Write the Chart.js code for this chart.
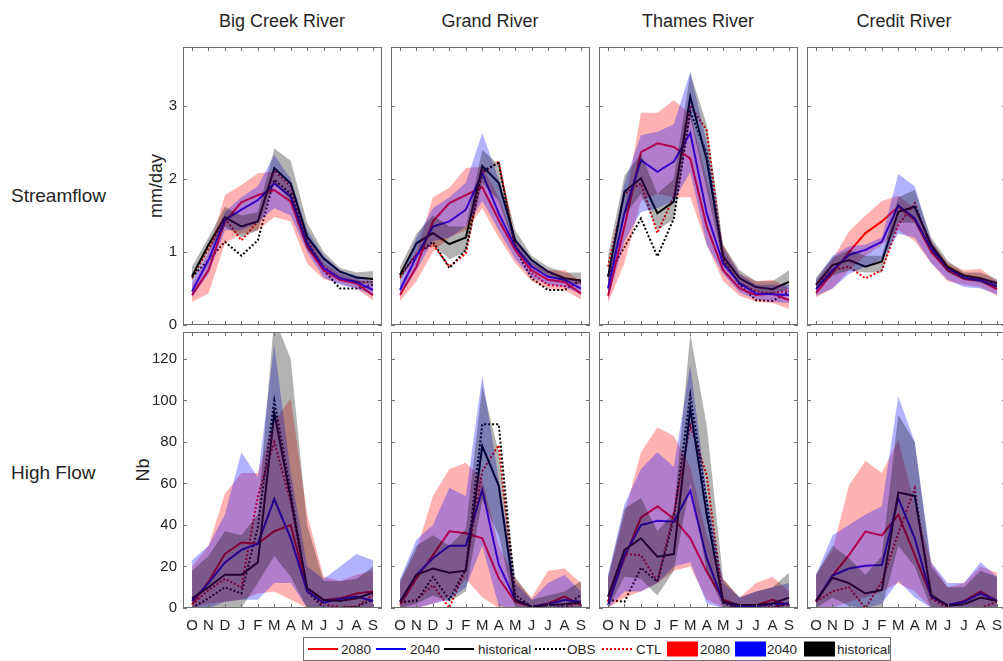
<!DOCTYPE html>
<html>
<head>
<meta charset="utf-8">
<script src="https://cdn.jsdelivr.net/npm/chart.js@4.4.1/dist/chart.umd.min.js"></script>
<style>
  body { margin: 0; width: 1003px; height: 661px; overflow: hidden; background: #fff; position: relative;
         font-family: "Liberation Sans", Arial, sans-serif; color: #262626; }
  .txt { position: absolute; white-space: nowrap; font-size: 18px; line-height: 1; }
  .row { font-size: 19px; }
  .title { transform: translate(-50%, -50%); }
  .ylab { transform: translate(-50%, -50%) rotate(-90deg); }
  #legend { position: absolute; left: 303px; top: 637px; width: 586px; height: 22px; border: 1px solid #707070;
            background: #fff; font-size: 13.5px; }
  #legend span { position: absolute; top: 50%; transform: translateY(-50%); }
  .ln { height: 0; width: 30px; border-top: 2px solid; }
  .dot { height: 0; width: 30px; border-top: 2px dotted; }
  .patch { width: 31px; height: 15px; }
</style>
</head>
<body>

<div class="txt title" style="left:282px;top:21px">Big Creek River</div>
<div class="txt title" style="left:490px;top:21px">Grand River</div>
<div class="txt title" style="left:698px;top:21px">Thames River</div>
<div class="txt title" style="left:904px;top:21px">Credit River</div>
<div class="txt row" style="left:11px;top:186px">Streamflow</div>
<div class="txt row" style="left:11px;top:463px">High Flow</div>
<div class="txt ylab" style="left:156px;top:186px">mm/day</div>
<div class="txt ylab" style="left:143px;top:470px">Nb</div>

<div id="legend">
  <span class="ln" style="left:4px;border-color:#f00"></span><span style="left:37px">2080</span>
  <span class="ln" style="left:72px;border-color:#00f"></span><span style="left:106px">2040</span>
  <span class="ln" style="left:140px;border-color:#000"></span><span style="left:174px">historical</span>
  <span class="dot" style="left:231px;border-color:#000"></span><span style="left:263px">OBS</span>
  <span class="dot" style="left:298px;border-color:#f00"></span><span style="left:332px">CTL</span>
  <span class="patch" style="left:363px;background:#f00"></span><span style="left:396px">2080</span>
  <span class="patch" style="left:431px;background:#00f"></span><span style="left:463px">2040</span>
  <span class="patch" style="left:500px;background:#000"></span><span style="left:533px">historical</span>
</div>

<script>
const months = ['O', 'N', 'D', 'J', 'F', 'M', 'A', 'M', 'J', 'J', 'A', 'S'];
const rivers = ['Big Creek River', 'Grand River', 'Thames River', 'Credit River'];
const flowTicks = [0, 1, 2, 3];
const countTicks = [0, 20, 40, 60, 80, 100, 120];

// Streamflow, mm/day
const bigQ_2080 = [0.41, 0.75, 1.42, 1.68, 1.78, 1.85, 1.69, 1.07, 0.75, 0.62, 0.57, 0.41];
const bigQ_2040 = [0.46, 0.89, 1.44, 1.58, 1.71, 1.94, 1.76, 1.12, 0.78, 0.64, 0.59, 0.48];
const bigQ_hist = [0.67, 1.10, 1.48, 1.35, 1.42, 2.15, 1.94, 1.21, 0.91, 0.73, 0.65, 0.63];
const bigQ_obs = [0.66, 0.89, 1.14, 0.95, 1.16, 1.99, 1.80, 1.12, 0.75, 0.50, 0.50, 0.55];
const bigQ_ctl = [0.64, 1.05, 1.46, 1.16, 1.42, 2.12, 1.90, 1.16, 0.80, 0.64, 0.59, 0.59];
const bigQ_2080lo = [0.32, 0.43, 1.12, 1.25, 1.30, 1.48, 1.42, 0.84, 0.63, 0.57, 0.50, 0.34];
const bigQ_2080hi = [0.55, 1.00, 1.78, 1.92, 2.08, 2.10, 1.90, 1.20, 0.85, 0.70, 0.62, 0.55];
const bigQ_2040lo = [0.38, 0.70, 1.30, 1.30, 1.40, 1.60, 1.50, 1.00, 0.65, 0.55, 0.50, 0.40];
const bigQ_2040hi = [0.60, 1.00, 1.55, 1.75, 1.90, 2.33, 2.00, 1.30, 0.95, 0.75, 0.68, 0.60];
const bigQ_histLo = [0.60, 1.00, 1.35, 1.20, 1.30, 1.95, 1.70, 1.05, 0.80, 0.65, 0.58, 0.55];
const bigQ_histHi = [0.80, 1.20, 1.62, 1.50, 1.55, 2.42, 2.25, 1.40, 1.00, 0.78, 0.72, 0.74];

const grandQ_2080 = [0.41, 0.80, 1.42, 1.67, 1.78, 1.89, 1.44, 1.03, 0.75, 0.62, 0.59, 0.43];
const grandQ_2040 = [0.48, 0.94, 1.35, 1.42, 1.58, 2.08, 1.53, 1.07, 0.80, 0.66, 0.62, 0.50];
const grandQ_hist = [0.69, 1.12, 1.26, 1.11, 1.20, 2.18, 1.95, 1.16, 0.89, 0.73, 0.64, 0.61];
const grandQ_obs = [0.68, 0.96, 1.14, 0.78, 1.03, 2.11, 2.22, 1.05, 0.64, 0.48, 0.48, 0.62];
const grandQ_ctl = [0.65, 0.98, 1.10, 0.80, 0.98, 2.08, 2.24, 1.10, 0.71, 0.55, 0.53, 0.59];
const grandQ_2080lo = [0.33, 0.60, 1.00, 1.20, 1.30, 1.60, 1.20, 0.85, 0.60, 0.50, 0.48, 0.35];
const grandQ_2080hi = [0.55, 1.00, 1.75, 1.88, 2.15, 2.17, 1.75, 1.15, 0.85, 0.75, 0.75, 0.60];
const grandQ_2040lo = [0.40, 0.75, 1.15, 1.20, 1.35, 1.70, 1.30, 0.90, 0.65, 0.55, 0.52, 0.42];
const grandQ_2040hi = [0.60, 1.20, 1.60, 1.75, 1.95, 2.63, 2.00, 1.20, 0.90, 0.75, 0.65, 0.60];
const grandQ_histLo = [0.60, 1.00, 1.10, 0.90, 1.00, 1.95, 1.70, 1.05, 0.80, 0.68, 0.60, 0.55];
const grandQ_histHi = [0.80, 1.25, 1.50, 1.35, 1.35, 2.40, 2.20, 1.30, 0.95, 0.80, 0.72, 0.72];

const thamesQ_2080 = [0.40, 1.35, 2.37, 2.49, 2.44, 2.28, 1.35, 0.75, 0.50, 0.41, 0.43, 0.34];
const thamesQ_2040 = [0.50, 1.53, 2.26, 2.10, 2.24, 2.63, 1.53, 0.84, 0.57, 0.43, 0.42, 0.41];
const thamesQ_hist = [0.66, 1.83, 2.01, 1.53, 1.69, 3.13, 2.26, 0.94, 0.64, 0.52, 0.49, 0.59];
const thamesQ_obs = [0.68, 1.07, 1.46, 0.94, 1.46, 2.92, 2.35, 0.89, 0.55, 0.34, 0.33, 0.46];
const thamesQ_ctl = [0.80, 1.80, 1.94, 1.26, 1.76, 3.01, 2.67, 0.89, 0.57, 0.46, 0.43, 0.48];
const thamesQ_2080lo = [0.30, 0.85, 1.70, 1.80, 1.75, 1.75, 1.10, 0.60, 0.40, 0.32, 0.30, 0.22];
const thamesQ_2080hi = [0.65, 1.60, 2.91, 2.91, 3.08, 2.90, 2.00, 1.10, 0.70, 0.60, 0.62, 0.50];
const thamesQ_2040lo = [0.35, 1.15, 1.55, 1.60, 1.70, 2.10, 1.10, 0.70, 0.45, 0.35, 0.32, 0.30];
const thamesQ_2040hi = [0.70, 1.95, 2.60, 2.65, 2.75, 3.47, 2.50, 1.05, 0.70, 0.55, 0.55, 0.55];
const thamesQ_histLo = [0.55, 1.50, 1.80, 1.30, 1.45, 2.85, 1.85, 0.85, 0.55, 0.45, 0.42, 0.50];
const thamesQ_histHi = [0.95, 2.05, 2.35, 1.80, 2.00, 3.45, 2.75, 1.10, 0.75, 0.60, 0.60, 0.75];

const creditQ_2080 = [0.44, 0.71, 1.00, 1.26, 1.42, 1.62, 1.44, 1.00, 0.75, 0.63, 0.61, 0.49];
const creditQ_2040 = [0.49, 0.75, 0.96, 1.03, 1.14, 1.64, 1.46, 1.05, 0.78, 0.65, 0.61, 0.53];
const creditQ_hist = [0.55, 0.82, 0.89, 0.80, 0.87, 1.55, 1.62, 1.10, 0.80, 0.68, 0.64, 0.57];
const creditQ_ctl = [0.55, 0.75, 0.80, 0.64, 0.75, 1.37, 1.67, 1.07, 0.78, 0.65, 0.63, 0.53];
const creditQ_2080lo = [0.38, 0.50, 0.75, 0.95, 1.10, 1.30, 1.15, 0.85, 0.60, 0.55, 0.52, 0.40];
const creditQ_2080hi = [0.60, 0.90, 1.28, 1.50, 1.70, 1.77, 1.60, 1.15, 0.85, 0.75, 0.77, 0.60];
const creditQ_2040lo = [0.40, 0.50, 0.70, 0.80, 0.90, 1.25, 1.20, 0.85, 0.62, 0.52, 0.50, 0.42];
const creditQ_2040hi = [0.62, 0.95, 1.08, 1.10, 1.20, 2.07, 1.90, 1.15, 0.80, 0.68, 0.65, 0.60];
const creditQ_histLo = [0.48, 0.68, 0.75, 0.72, 0.72, 1.40, 1.40, 1.00, 0.72, 0.62, 0.58, 0.50];
const creditQ_histHi = [0.65, 0.92, 1.03, 0.95, 0.95, 1.75, 1.85, 1.20, 0.88, 0.72, 0.72, 0.63];

// High flow, number of events
const bigN_2080 = [1.8, 12.7, 26, 31.6, 31, 37, 40, 9.5, 3.9, 4.7, 7, 8];
const bigN_2040 = [3.4, 12, 22, 28, 31, 52.5, 33.6, 8, 2.6, 4.3, 5.5, 3.4];
const bigN_hist = [4.7, 10, 16, 16, 22, 94, 53, 9.5, 4, 3.4, 4.7, 7.4];
const bigN_obs = [0, 4.7, 10, 7, 39, 100, 56, 8, 0, 0, 0.6, 4];
const bigN_ctl = [1.5, 8.7, 14, 10, 54, 80, 51, 8, 1.5, 0.6, 0.6, 6.3];
const bigN_2080lo = [0, 2, 3, 4, 7, 8, 4, 0, 0, 0, 0, 0];
const bigN_2080hi = [20, 30, 55, 65, 65, 90, 101, 45, 15, 13, 16, 18];
const bigN_2040lo = [0, 0, 3, 4, 4, 12, 12, 0, 0, 0, 0, 0];
const bigN_2040hi = [23, 30, 45, 75, 63, 127, 65, 20, 14, 20, 26, 23];
const bigN_histLo = [0, 0, 0, 0, 12, 25, 15, 0, 0, 0, 0, 0];
const bigN_histHi = [18, 25, 37, 35, 45, 140, 120, 40, 13, 13, 14, 20];

const grandN_2080 = [1.4, 14.3, 25.5, 37, 36, 33.6, 14.3, 3, 0.6, 2.2, 5.5, 1.4];
const grandN_2040 = [3, 16, 24, 30, 30, 57, 21, 4, 0.6, 1.8, 3.9, 3];
const grandN_hist = [3, 16, 19, 17, 18, 78, 59, 4, 0.6, 1.4, 1.8, 2.7];
const grandN_obs = [3, 3.4, 15, 4, 19, 88.5, 88.5, 6.3, 0.6, 0, 0.6, 6.3];
const grandN_ctl = [2.2, 4, 11, 0, 19, 66, 78.5, 4, 0.6, 0, 0, 3];
const grandN_2080lo = [0, 0, 2, 5, 14, 5, 0, 0, 0, 0, 0, 0];
const grandN_2080hi = [12, 28, 54, 67, 70, 62, 30, 14, 5, 18, 19, 12];
const grandN_2040lo = [0, 0, 2, 4, 10, 30, 1, 0, 0, 0, 0, 0];
const grandN_2040hi = [14, 33, 40, 58, 54, 112, 62, 12, 4, 12, 16, 8];
const grandN_histLo = [0, 2, 6, 3, 8, 52, 35, 0, 0, 0, 0, 0];
const grandN_histHi = [13, 30, 35, 30, 38, 107, 75, 15, 4, 6, 8, 13];

const thamesN_2080 = [3, 24, 43.5, 49, 43, 33.6, 17.5, 4, 1.1, 1.4, 3.9, 1.4];
const thamesN_2040 = [1.4, 25.5, 40, 42, 41.6, 56.5, 24, 3, 0.6, 1, 1.8, 2.2];
const thamesN_hist = [5.5, 28, 33.6, 24.7, 26, 96, 45, 3, 1.4, 1.4, 2.2, 5];
const thamesN_obs = [4, 3, 19.4, 12.7, 43, 102.6, 51, 2.2, 0, 0, 0, 2.2];
const thamesN_ctl = [3, 26, 25.5, 12.7, 46, 88, 64, 3, 0, 0, 0.6, 2.2];
const thamesN_2080lo = [0, 5, 8, 12, 18, 20, 4, 0, 0, 0, 0, 0];
const thamesN_2080hi = [14, 45, 75, 87, 83, 68, 35, 14, 5, 12, 15, 8];
const thamesN_2040lo = [0, 8, 8, 12, 20, 22, 2, 0, 0, 0, 0, 0];
const thamesN_2040hi = [16, 50, 67, 75, 68, 117, 55, 12, 5, 8, 10, 12];
const thamesN_histLo = [0, 15, 14, 6, 18, 60, 18, 0, 0, 0, 0, 0];
const thamesN_histHi = [15, 48, 53, 37, 46, 132, 88, 14, 5, 8, 10, 17];

const creditN_2080 = [3, 15.6, 25.5, 36.8, 35, 45, 25.5, 5.5, 1.1, 3.4, 7.9, 3.4];
const creditN_2040 = [3.4, 15.6, 19, 20.4, 20.7, 52.9, 33.6, 5.5, 1.4, 3, 7, 3.4];
const creditN_hist = [3.4, 14.6, 12, 7, 8.7, 55.7, 54, 6.3, 1.1, 1.8, 5, 3.4];
const creditN_ctl = [3, 8, 10, 0, 12.7, 36, 57.7, 4.7, 0, 0, 0, 3];
const creditN_2080lo = [0, 0, 3, 5, 8, 12, 8, 0, 0, 0, 0, 0];
const creditN_2080hi = [16, 28, 59, 71, 65, 81, 50, 22, 10, 12, 20, 17];
const creditN_2040lo = [0, 0, 0, 0, 2, 13, 5, 0, 0, 0, 0, 0];
const creditN_2040hi = [16, 35, 40, 45, 49, 102, 80, 22, 12, 12, 22, 15];
const creditN_histLo = [0, 5, 1, 0, 0, 30, 20, 0, 0, 0, 0, 0];
const creditN_histHi = [16, 30, 24, 16, 25, 93, 80, 20, 10, 10, 18, 15];

const panels = [
  { row: 0, col: 0, r: bigQ_2080, b: bigQ_2040, k: bigQ_hist, obs: bigQ_obs, ctl: bigQ_ctl,
    rLo: bigQ_2080lo, rHi: bigQ_2080hi, bLo: bigQ_2040lo, bHi: bigQ_2040hi, kLo: bigQ_histLo, kHi: bigQ_histHi },
  { row: 0, col: 1, r: grandQ_2080, b: grandQ_2040, k: grandQ_hist, obs: grandQ_obs, ctl: grandQ_ctl,
    rLo: grandQ_2080lo, rHi: grandQ_2080hi, bLo: grandQ_2040lo, bHi: grandQ_2040hi, kLo: grandQ_histLo, kHi: grandQ_histHi },
  { row: 0, col: 2, r: thamesQ_2080, b: thamesQ_2040, k: thamesQ_hist, obs: thamesQ_obs, ctl: thamesQ_ctl,
    rLo: thamesQ_2080lo, rHi: thamesQ_2080hi, bLo: thamesQ_2040lo, bHi: thamesQ_2040hi, kLo: thamesQ_histLo, kHi: thamesQ_histHi },
  { row: 0, col: 3, r: creditQ_2080, b: creditQ_2040, k: creditQ_hist, obs: null, ctl: creditQ_ctl,
    rLo: creditQ_2080lo, rHi: creditQ_2080hi, bLo: creditQ_2040lo, bHi: creditQ_2040hi, kLo: creditQ_histLo, kHi: creditQ_histHi },
  { row: 1, col: 0, r: bigN_2080, b: bigN_2040, k: bigN_hist, obs: bigN_obs, ctl: bigN_ctl,
    rLo: bigN_2080lo, rHi: bigN_2080hi, bLo: bigN_2040lo, bHi: bigN_2040hi, kLo: bigN_histLo, kHi: bigN_histHi },
  { row: 1, col: 1, r: grandN_2080, b: grandN_2040, k: grandN_hist, obs: grandN_obs, ctl: grandN_ctl,
    rLo: grandN_2080lo, rHi: grandN_2080hi, bLo: grandN_2040lo, bHi: grandN_2040hi, kLo: grandN_histLo, kHi: grandN_histHi },
  { row: 1, col: 2, r: thamesN_2080, b: thamesN_2040, k: thamesN_hist, obs: thamesN_obs, ctl: thamesN_ctl,
    rLo: thamesN_2080lo, rHi: thamesN_2080hi, bLo: thamesN_2040lo, bHi: thamesN_2040hi, kLo: thamesN_histLo, kHi: thamesN_histHi },
  { row: 1, col: 3, r: creditN_2080, b: creditN_2040, k: creditN_hist, obs: null, ctl: creditN_ctl,
    rLo: creditN_2080lo, rHi: creditN_2080hi, bLo: creditN_2040lo, bHi: creditN_2040hi, kLo: creditN_histLo, kHi: creditN_histHi }
];

const colLeft = [183, 391, 599, 807];
const rowTop = [47, 332];
const rowHeight = [278, 276];
const rowMax = [3.81, 133];
const PAD = { l: 50, r: 8, t: 6, b: 30 };
const AXIS = '#262626';
const BOX = '#707070';
const FONT = '15px "Liberation Sans", Arial, sans-serif';

// MATLAB-style box with inward ticks on all four sides
const boxAxes = {
  id: 'boxAxes',
  afterDraw(chart, args, o) {
    const { ctx, chartArea: a, scales: { x, y } } = chart;
    ctx.save();
    ctx.strokeStyle = BOX;
    ctx.lineWidth = 1;
    ctx.strokeRect(a.left + 0.5, a.top + 0.5, a.right - a.left - 1, a.bottom - a.top - 1);
    ctx.beginPath();
    months.forEach((m, i) => {
      const px = Math.round(x.getPixelForValue(i)) + 0.5;
      ctx.moveTo(px, a.bottom); ctx.lineTo(px, a.bottom - 4);
      ctx.moveTo(px, a.top); ctx.lineTo(px, a.top + 4);
    });
    o.yTicks.forEach(v => {
      const py = Math.round(y.getPixelForValue(v)) + 0.5;
      ctx.moveTo(a.left, py); ctx.lineTo(a.left + 4, py);
      ctx.moveTo(a.right, py); ctx.lineTo(a.right - 4, py);
    });
    ctx.stroke();
    ctx.fillStyle = AXIS;
    ctx.font = FONT;
    if (o.showY) {
      ctx.textAlign = 'right';
      ctx.textBaseline = 'middle';
      o.yTicks.forEach(v => ctx.fillText(String(v), a.left - 6, y.getPixelForValue(v)));
    }
    if (o.showX) {
      ctx.textAlign = 'center';
      ctx.textBaseline = 'alphabetic';
      months.forEach((m, i) => ctx.fillText(m, x.getPixelForValue(i), a.bottom + 22));
    }
    ctx.restore();
  }
};

const pts = arr => arr.map((v, i) => ({ x: i, y: v }));

function line(arr, color, dotted) {
  return { data: pts(arr), borderColor: color, borderWidth: 2, borderDash: dotted ? [2, 2] : [],
           pointRadius: 0, fill: false, tension: 0, order: 10 };
}

function band(lo, hi, color, order) {
  return [
    { data: pts(lo), borderWidth: 0, borderColor: 'transparent', pointRadius: 0, fill: false, order },
    { data: pts(hi), borderWidth: 0, borderColor: 'transparent', pointRadius: 0, fill: '-1', backgroundColor: color, order }
  ];
}

panels.forEach(p => {
  const w = 199, h = rowHeight[p.row];
  const cv = document.createElement('canvas');
  cv.width = w + PAD.l + PAD.r;
  cv.height = h + PAD.t + PAD.b;
  cv.style.position = 'absolute';
  cv.style.left = (colLeft[p.col] - PAD.l) + 'px';
  cv.style.top = (rowTop[p.row] - PAD.t) + 'px';
  document.body.appendChild(cv);

  const datasets = [
    line(p.k, '#000000', false),
    line(p.b, '#0000ff', false),
    line(p.r, '#ff0000', false),
    ...(p.obs ? [line(p.obs, '#000000', true)] : []),
    line(p.ctl, '#ff0000', true),
    ...band(p.rLo, p.rHi, 'rgba(255,0,0,0.3)', 3),
    ...band(p.bLo, p.bHi, 'rgba(0,0,255,0.3)', 2),
    ...band(p.kLo, p.kHi, 'rgba(0,0,0,0.3)', 1)
  ];

  new Chart(cv, {
    type: 'line',
    data: { datasets },
    options: {
      responsive: false,
      animation: false,
      layout: { padding: { left: PAD.l, right: PAD.r, top: PAD.t, bottom: PAD.b } },
      scales: {
        x: { type: 'linear', min: -0.55, max: 11.55, display: false },
        y: { type: 'linear', min: 0, max: rowMax[p.row], display: false }
      },
      plugins: {
        legend: { display: false },
        tooltip: { enabled: false },
        boxAxes: { yTicks: p.row === 0 ? flowTicks : countTicks, showY: p.col === 0, showX: p.row === 1 }
      }
    },
    plugins: [boxAxes]
  });
});
</script>
</body>
</html>
